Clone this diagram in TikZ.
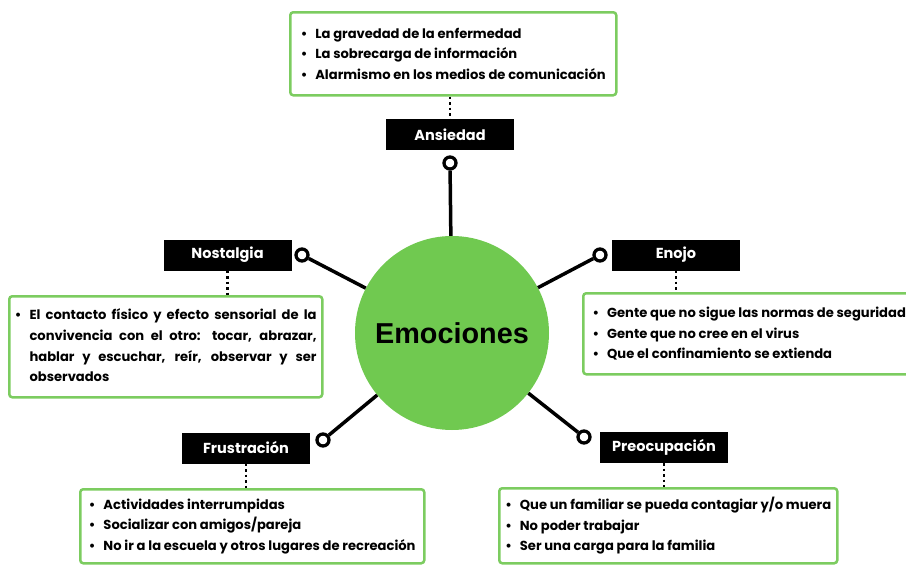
\documentclass[tikz,border=0pt]{standalone}
\usepackage{fontspec}
\setmainfont{Poppins}
\newfontfamily\headfont{Liberation Sans}
\usetikzlibrary{positioning}
\definecolor{emogreen}{RGB}{112,201,80}
\definecolor{boxgreen}{RGB}{124,204,96}
\newcommand{\itm}[1]{\textbullet\hspace{8pt}#1}

\begin{document}
\begin{tikzpicture}[x=1pt,y=-1pt,
    emo/.style={circle,fill=emogreen,minimum size=194pt,inner sep=0pt,font=\headfont\bfseries\fontsize{28.8}{32}\selectfont},
    tag/.style={fill=black,text=white,minimum width=128pt,minimum height=31pt,inner sep=0pt,font=\bfseries\fontsize{14.5}{16}\selectfont},
    info/.style={draw=boxgreen,line width=2.5pt,rounded corners=3pt,anchor=north west,inner sep=0pt,align=left,
        font=\bfseries\fontsize{13.1}{20.6}\selectfont},
    ring/.style={circle,draw=black,line width=3.3pt,minimum size=12pt,inner sep=0pt},
    conn/.style={line width=3.5pt},
    dots/.style={line width=2.5pt,dash pattern=on 2.5pt off 3pt}]
    \useasboundingbox (0,0) rectangle (906,565);
    % centre
    \node[emo] (emo) at (452,333) {Emociones};
    % ansiedad
    \node[tag] (ans) at (450,134.5) {Ansiedad};
    \node[ring] (rans) at (450,163) {};
    \node[info,minimum width=326pt,minimum height=83pt] (bans) at (289,11)
        {\itm{La gravedad de la enfermedad}\\\itm{La sobrecarga de información}\\\itm{Alarmismo en los medios de comunicación}};
    % nostalgia
    \node[tag] (nos) at (227.5,255) {Nostalgia};
    \node[ring] (rnos) at (302,255) {};
    \node[info,minimum width=313pt,minimum height=101pt] (bnos) at (8,295)
        {\begin{tabular}{@{}l@{\hspace{8pt}}p{287pt}@{}}\textbullet & \hyphenpenalty=10000\relax El contacto físico y efecto sensorial de la convivencia con el otro: tocar, abrazar, hablar y escuchar, reír, observar y ser observados\end{tabular}};
    % enojo
    \node[tag] (eno) at (676,255) {Enojo};
    \node[ring] (reno) at (600,255) {};
    \node[info,minimum width=332pt,minimum height=81pt] (beno) at (582,292)
        {\itm{Gente que no sigue las normas de seguridad}\\\itm{Gente que no cree en el virus}\\\itm{Que el confinamiento se extienda}};
    % frustracion
    \node[tag] (fru) at (246,448) {Frustración};
    \node[ring] (rfru) at (323,440) {};
    \node[info,minimum width=344pt,minimum height=74pt] (bfru) at (79,488)
        {\itm{Actividades interrumpidas}\\\itm{Socializar con amigos/pareja}\\\itm{No ir a la escuela y otros lugares de recreación}};
    % preocupacion
    \node[tag] (pre) at (664,447.5) {Preocupación};
    \node[ring] (rpre) at (584,437) {};
    \node[info,minimum width=338pt,minimum height=75pt] (bpre) at (498,487)
        {\itm{Que un familiar se pueda contagiar y/o muera}\\\itm{No poder trabajar}\\\itm{Ser una carga para la familia}};
    % connectors
    \foreach \r in {rans,rnos,reno,rfru,rpre}
        \draw[conn] (\r) -- (emo);
    \draw[dots] (bans.south -| ans) -- (ans.north);
    \draw[dots] (nos.south) -- (nos.south |- bnos.north);
    \draw[dots] (eno.south) -- (eno.south |- beno.north);
    \draw[dots] (fru.south) -- (fru.south |- bfru.north);
    \draw[dots] (pre.south) -- (pre.south |- bpre.north);
\end{tikzpicture}
\end{document}
